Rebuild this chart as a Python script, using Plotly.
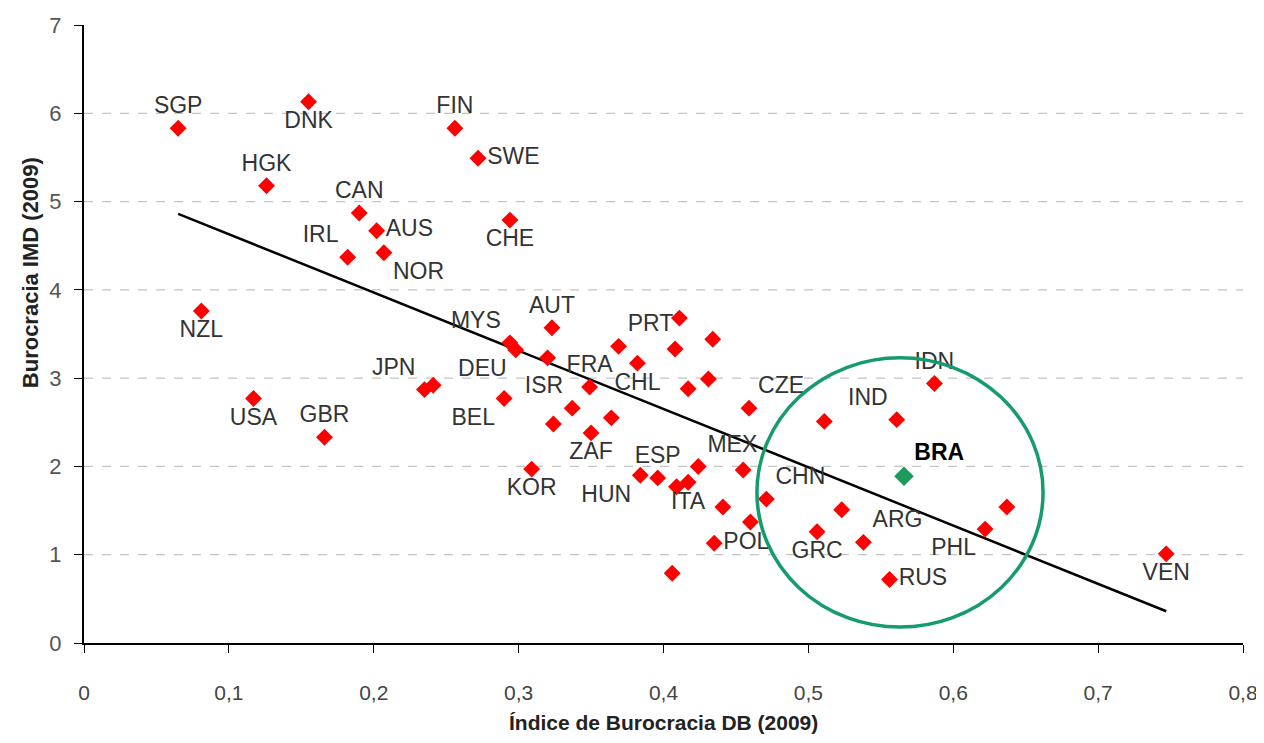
import plotly.graph_objects as go

# Country scatter: DB bureaucracy index (x) vs IMD bureaucracy score (y), 2009
COUNTRY = [
    'SGP', 'DNK', 'HGK', 'FIN', 'SWE', 'CAN', 'AUS', 'NOR', 'IRL', 'CHE',
    'NZL', 'USA', 'GBR', 'JPN', '', 'BEL', 'MYS', 'DEU', 'AUT', '',
    'FRA', 'ISR', '', 'ZAF', '', 'KOR', 'PRT', 'CHL', '', '',
    '', '', '', 'CZE', 'HUN', 'ESP', '', 'ITA', 'MEX', '',
    '', '', 'POL', '', 'CHN', '', 'IND', 'IDN', '', 'GRC',
    'ARG', 'RUS', '', 'PHL', 'VEN',
]
DB_INDEX = [
    0.065, 0.155, 0.126, 0.256, 0.272, 0.190, 0.202, 0.207, 0.182, 0.294,
    0.081, 0.117, 0.166, 0.235, 0.241, 0.290, 0.294, 0.298, 0.323, 0.320,
    0.349, 0.337, 0.324, 0.350, 0.364, 0.309, 0.369, 0.382, 0.411, 0.408,
    0.434, 0.417, 0.431, 0.459, 0.384, 0.396, 0.409, 0.417, 0.424, 0.455,
    0.441, 0.460, 0.435, 0.406, 0.471, 0.511, 0.561, 0.587, 0.523, 0.506,
    0.538, 0.556, 0.637, 0.622, 0.747,
]
IMD_SCORE = [
    5.83, 6.13, 5.18, 5.83, 5.49, 4.87, 4.67, 4.42, 4.37, 4.79,
    3.76, 2.77, 2.33, 2.87, 2.92, 2.77, 3.40, 3.32, 3.57, 3.23,
    2.90, 2.66, 2.48, 2.38, 2.55, 1.97, 3.36, 3.17, 3.68, 3.33,
    3.44, 2.88, 2.99, 2.66, 1.90, 1.87, 1.77, 1.82, 2.00, 1.96,
    1.54, 1.37, 1.13, 0.79, 1.63, 2.51, 2.53, 2.94, 1.51, 1.26,
    1.14, 0.72, 1.54, 1.29, 1.01,
]

# Brazil, highlighted
BRA_X = [0.566]
BRA_Y = [1.89]

# fitted trend line: y = a + b*x
TREND_INTERCEPT = 5.29
TREND_SLOPE = -6.60

# highlighted region around Brazil (data units)
CIRCLE_X = [0.4645, 0.662]
CIRCLE_Y = [0.18, 3.23]

X_TICKS = [0, 0.1, 0.2, 0.3, 0.4, 0.5, 0.6, 0.7, 0.8]
X_TICK_TEXT = ['0', '0,1', '0,2', '0,3', '0,4', '0,5', '0,6', '0,7', '0,8']
Y_TICKS = [0, 1, 2, 3, 4, 5, 6, 7]

X_TITLE = 'Índice de Burocracia DB (2009)'
Y_TITLE = 'Burocracia IMD (2009)'

# where each label sits relative to its marker
LABEL_POS = {
    'SGP': 'top center', 'DNK': 'bottom center', 'HGK': 'top center',
    'FIN': 'top center', 'SWE': 'middle right', 'CAN': 'top center',
    'AUS': 'middle right', 'NOR': 'bottom right', 'IRL': 'top left',
    'CHE': 'bottom center', 'NZL': 'bottom center', 'USA': 'bottom center',
    'GBR': 'top center', 'JPN': 'top left', 'BEL': 'bottom left',
    'MYS': 'top left', 'DEU': 'bottom left', 'AUT': 'top center',
    'FRA': 'top center', 'ISR': 'top left', 'ZAF': 'bottom center',
    'KOR': 'bottom center', 'PRT': 'top right', 'CHL': 'bottom center',
    'CZE': 'top right', 'HUN': 'bottom left', 'ESP': 'top center',
    'ITA': 'bottom center', 'MEX': 'top right', 'POL': 'middle right',
    'CHN': 'top right', 'IND': 'top left', 'IDN': 'top center',
    'GRC': 'bottom center', 'ARG': 'top right', 'RUS': 'middle right',
    'PHL': 'bottom left', 'VEN': 'bottom center',
}

FONT = 'Liberation Sans, Arial, sans-serif'

fig = go.Figure()

# dashed horizontal gridlines (no line at the top edge)
for v in Y_TICKS[1:-1]:
    fig.add_shape(type='line', xref='x', yref='y', x0=X_TICKS[0], x1=X_TICKS[-1],
                  y0=v, y1=v, line=dict(color='#c4c4c4', width=1.2, dash='dash'),
                  layer='below')

# trend line over the observed x range
x_lo, x_hi = min(DB_INDEX), max(DB_INDEX)
fig.add_trace(go.Scatter(
    x=[x_lo, x_hi],
    y=[TREND_INTERCEPT + TREND_SLOPE * x_lo, TREND_INTERCEPT + TREND_SLOPE * x_hi],
    mode='lines', line=dict(color='black', width=2.5),
    hoverinfo='skip', showlegend=False,
))

fig.add_trace(go.Scatter(
    x=DB_INDEX, y=IMD_SCORE, text=COUNTRY,
    mode='markers+text',
    textposition=[LABEL_POS.get(c, 'top center') for c in COUNTRY],
    textfont=dict(family=FONT, size=23, color='#333333'),
    marker=dict(symbol='diamond', size=13, color='#ff0000'),
    showlegend=False,
))

fig.add_trace(go.Scatter(
    x=BRA_X, y=BRA_Y, text=['<b>BRA</b>'],
    mode='markers+text', textposition='top right',
    textfont=dict(family=FONT, size=23, color='black'),
    marker=dict(symbol='diamond', size=15, color='#1b9a5c'),
    showlegend=False,
))

fig.add_shape(type='circle', xref='x', yref='y',
              x0=CIRCLE_X[0], x1=CIRCLE_X[1], y0=CIRCLE_Y[0], y1=CIRCLE_Y[1],
              line=dict(color='#169b6b', width=3.5))

# axis titles placed as annotations so they sit where the original has them
fig.add_annotation(text=f'<b>{X_TITLE}</b>', xref='paper', yref='paper',
                   x=0.5, y=-0.128, xanchor='center', yanchor='middle',
                   showarrow=False, font=dict(family=FONT, size=21, color='#222222'))
fig.add_annotation(text=f'<b>{Y_TITLE}</b>', xref='paper', yref='paper',
                   x=-0.0466, y=0.60, xanchor='center', yanchor='middle',
                   textangle=-90, showarrow=False,
                   font=dict(family=FONT, size=22, color='#222222'))

fig.update_xaxes(
    range=[X_TICKS[0], X_TICKS[-1]], tickvals=X_TICKS, ticktext=X_TICK_TEXT,
    showline=True, linecolor='black', linewidth=2, automargin=False,
    ticks='outside', ticklen=8, tickcolor='black', tickwidth=1,
    ticklabelstandoff=22, ticklabeloverflow='allow',
    showgrid=False, zeroline=False,
    tickfont=dict(family=FONT, size=21, color='#444444'),
)
fig.update_yaxes(
    range=[Y_TICKS[0], Y_TICKS[-1]], tickvals=Y_TICKS,
    showline=True, linecolor='black', linewidth=2, automargin=False,
    ticks='outside', ticklen=8, tickcolor='black', tickwidth=1,
    ticklabelstandoff=8, showgrid=False, zeroline=False,
    tickfont=dict(family=FONT, size=22, color='#555555'),
)

# page body has an 8px margin, so the figure is sized to fit inside it
fig.update_layout(
    width=1252, height=727,
    paper_bgcolor='white', plot_bgcolor='white',
    margin=dict(l=76, r=17, t=17, b=92),
    font=dict(family=FONT),
)

fig.write_html('out.html')
